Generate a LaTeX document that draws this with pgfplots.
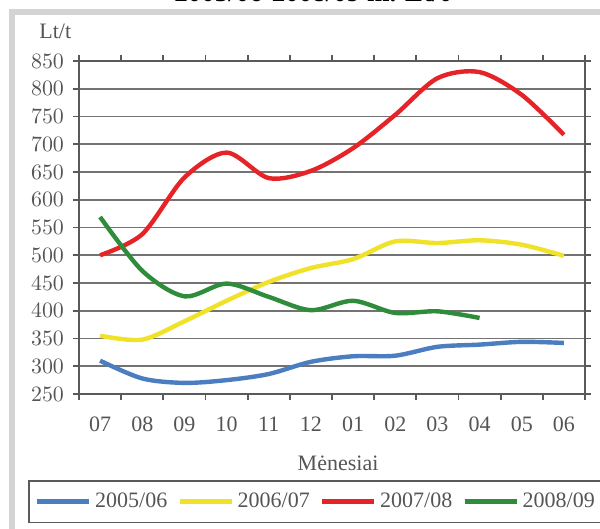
\documentclass[border=0pt]{standalone}
\usepackage{fontspec}
\setmainfont{Liberation Serif}
\usepackage{pgfplots}
\pgfplotsset{compat=1.18}
\definecolor{cblue}{RGB}{74,126,192}
\definecolor{cyellow}{RGB}{240,226,40}
\definecolor{cred}{RGB}{230,36,40}
\definecolor{cgreen}{RGB}{46,140,58}
\definecolor{gridc}{RGB}{115,115,115}
\definecolor{axc}{RGB}{90,90,90}
\definecolor{txt}{RGB}{85,85,85}
\definecolor{framec}{RGB}{212,212,212}
\begin{document}
\begin{tikzpicture}
\fill[white] (0,0) rectangle (300pt,-264.5pt);
\draw[framec, line width=3pt] (6pt,-6.25pt) rectangle (330pt,-300pt);
\node[anchor=base, font=\fontsize{13.5}{16}\selectfont\bfseries] at (155.75pt,-1pt) {2005/06-2008/09 m. Lt/t};
\begin{axis}[
  at={(39.5pt,-197pt)}, anchor=south west,
  width=253pt, height=166.5pt, scale only axis,
  xmin=-0.5, xmax=11.5, ymin=250, ymax=850,
  xtick={0,...,11},
  xticklabels={07,08,09,10,11,12,01,02,03,04,05,06},
  minor xtick={-0.5,0.5,...,11.5},
  ytick={250,300,...,850},
  major tick length=0pt,
  minor tick length=3pt,
  tick align=outside,
  tick style={axc, line width=0.9pt},
  ymajorgrids,
  grid style={gridc, line width=0.9pt},
  axis line style={axc, line width=1pt},
  y axis line style={line width=1.4pt},
  x axis line style={line width=1.4pt},
  extra y ticks={250,300,...,850},
  extra y tick labels={},
  extra y tick style={major tick length=3pt, grid=none},
  ticklabel style={font=\fontsize{11}{13}\selectfont, text=txt},
  yticklabel style={xshift=-4pt},
  xticklabel style={yshift=-8pt},
  xlabel={Mėnesiai},
  xlabel style={at={(axis description cs:0.512,-0.207)}, anchor=center, font=\fontsize{11}{13}\selectfont, text=txt},
  ylabel={Lt/t},
  ylabel style={at={(axis description cs:-0.047,1.09)}, anchor=center, rotate=-90, font=\fontsize{11}{13}\selectfont, text=txt},
  legend columns=4,
  legend image code/.code={\draw[#1] (0pt,0pt) -- (26pt,0pt);},
  legend style={at={(axis description cs:-0.1008,-0.2583)}, anchor=north west,
    draw=axc, line width=0.8pt, inner xsep=3pt, inner ysep=4pt,
    font=\fontsize{11}{13}\selectfont, text=txt,
    /tikz/every even column/.append style={column sep=3pt}},
  every axis plot/.append style={line width=2.2pt, smooth, tension=0.5},
]
\addplot[cblue] coordinates {(0,310) (1,278) (2,270) (3,275) (4,286) (5,308) (6,318) (7,319) (8,335) (9,339) (10,344) (11,342)};
\addlegendentry{2005/06}
\addplot[cyellow] coordinates {(0,355) (1,348) (2,381) (3,418) (4,452) (5,477) (6,493) (7,525) (8,522) (9,527) (10,519) (11,499)};
\addlegendentry{2006/07}
\addplot[cred] coordinates {(0,500) (1,538) (2,640) (3,685) (4,639) (5,652) (6,693) (7,753) (8,819) (9,830) (10,789) (11,717)};
\addlegendentry{2007/08}
\addplot[cgreen] coordinates {(0,569) (1,472) (2,426) (3,449) (4,425) (5,401) (6,418) (7,396) (8,399) (9,387)};
\addlegendentry{2008/09}
\end{axis}
\pgfresetboundingbox
\useasboundingbox (0,0) rectangle (300pt,-264.5pt);
\end{tikzpicture}
\end{document}
